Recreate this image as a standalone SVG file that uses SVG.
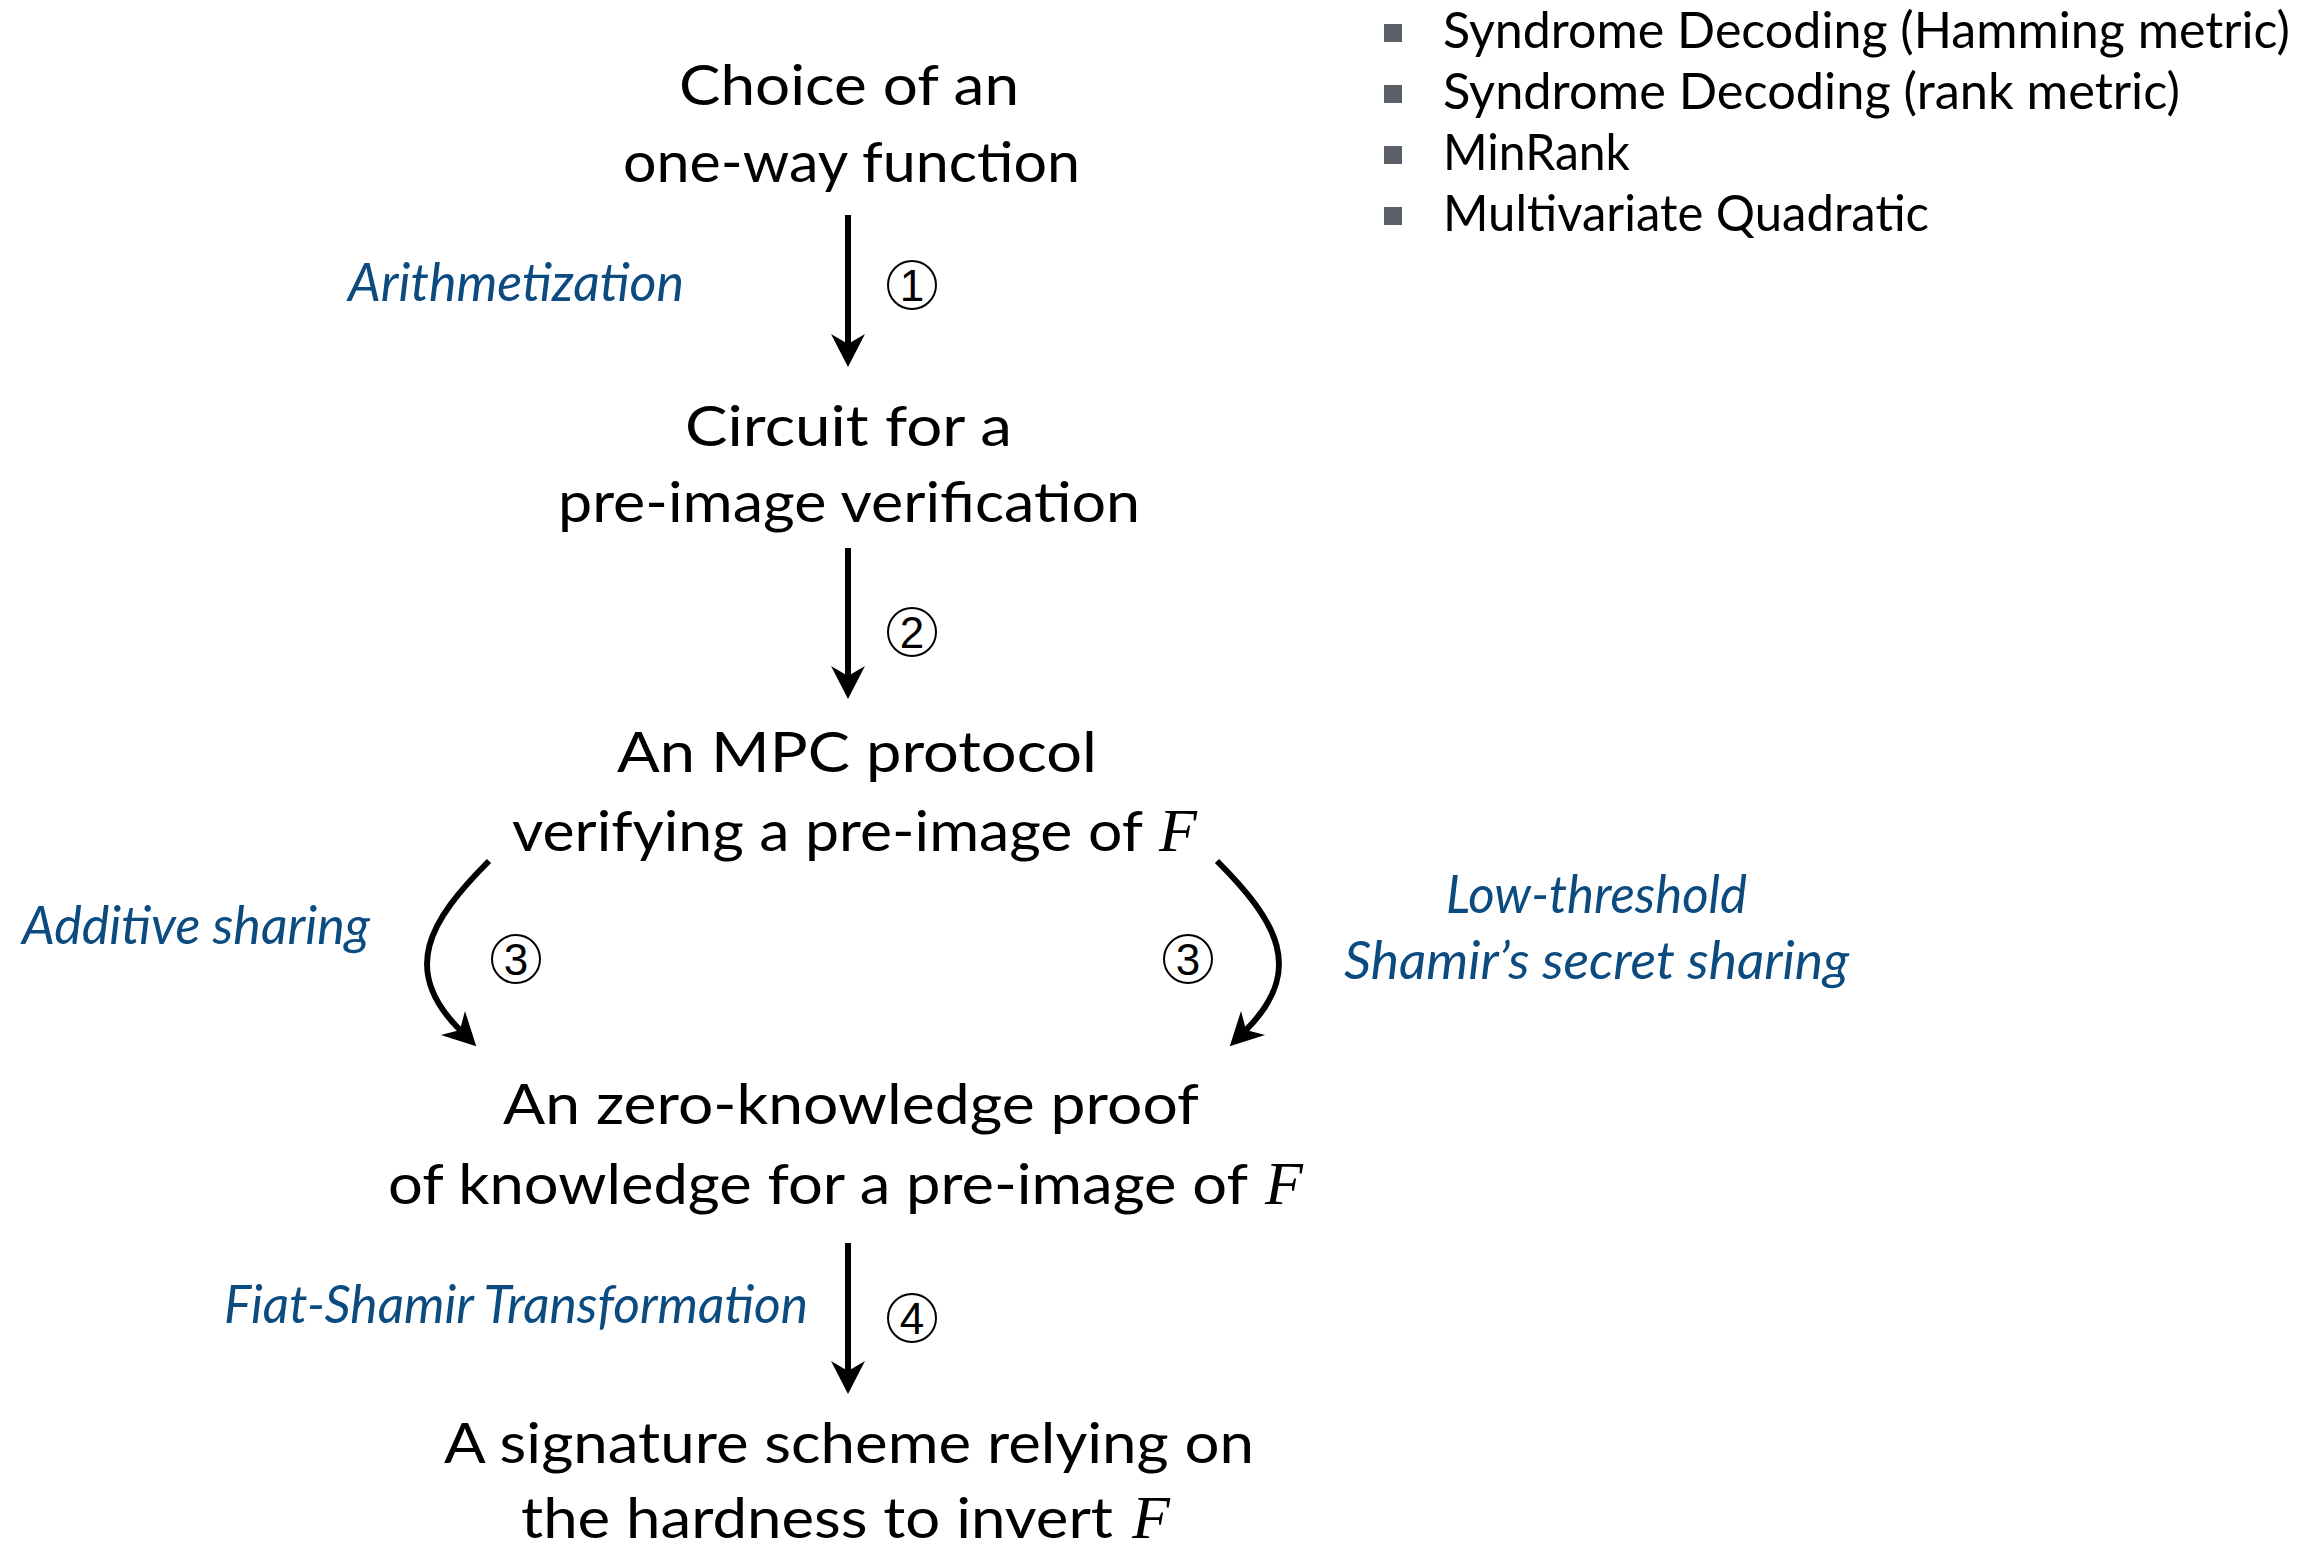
<svg xmlns="http://www.w3.org/2000/svg" width="2321" height="1549" viewBox="0 0 2321 1549">
<style>
.main{font-family:Lato,"Liberation Sans",sans-serif;font-size:57px;fill:#000}
.lbl{font-family:Lato,"Liberation Sans",sans-serif;font-style:italic;font-size:53px;fill:#0c4b7f}
.bul{font-family:Lato,"Liberation Sans",sans-serif;font-size:50px;fill:#000}
.F{font-family:"Liberation Serif",serif;font-style:italic;font-size:62px;fill:#000}
.num{font-family:"Liberation Sans",sans-serif;font-size:44px;fill:#000;text-anchor:middle}
.circ{fill:none;stroke:#000;stroke-width:2}
.arr{fill:none;stroke:#000;stroke-width:6;marker-end:url(#ah)}
.sq{fill:#5b6068}
</style>
<defs>
<marker id="ah" markerUnits="userSpaceOnUse" viewBox="-2 -20 40 40" markerWidth="40" markerHeight="40" refX="10" refY="0" orient="auto" overflow="visible">
<path d="M33 0 L0 -17 L10 0 L0 17 Z" fill="#000"/>
</marker>
</defs>
<rect width="2321" height="1549" fill="#fff"/>
<g id="connectors">
<path class="arr" d="M848 215 L848 344"/>
<path class="arr" d="M848 548 L848 676"/>
<path class="arr" d="M489 861 C429 921 400 970 460 1030"/>
<path class="arr" d="M1217 861 C1277 921 1306 970 1246 1030"/>
<path class="arr" d="M848 1243 L848 1371"/>
</g>
<g id="node-oneway">
<text class="main" x="679" y="105" textLength="340" lengthAdjust="spacingAndGlyphs">Choice of an</text>
<text class="main" x="623" y="182" textLength="457" lengthAdjust="spacingAndGlyphs">one-way function</text>
</g>
<g id="node-circuit">
<text class="main" x="685" y="446" textLength="327" lengthAdjust="spacingAndGlyphs">Circuit for a</text>
<text class="main" x="558" y="522" textLength="582" lengthAdjust="spacingAndGlyphs">pre-image verification</text>
</g>
<g id="node-mpc">
<text class="main" x="617" y="772" textLength="480" lengthAdjust="spacingAndGlyphs">An MPC protocol</text>
<text class="main" x="512" y="851" textLength="631" lengthAdjust="spacingAndGlyphs">verifying a pre-image of</text>
<text class="F" x="1159" y="851">F</text>
</g>
<g id="node-zk">
<text class="main" x="503" y="1124" textLength="696" lengthAdjust="spacingAndGlyphs">An zero-knowledge proof</text>
<text class="main" x="388" y="1204" textLength="860" lengthAdjust="spacingAndGlyphs">of knowledge for a pre-image of</text>
<text class="F" x="1265" y="1204">F</text>
</g>
<g id="node-signature">
<text class="main" x="444" y="1463" textLength="810" lengthAdjust="spacingAndGlyphs">A signature scheme relying on</text>
<text class="main" x="521" y="1538" textLength="592" lengthAdjust="spacingAndGlyphs">the hardness to invert</text>
<text class="F" x="1132" y="1538">F</text>
</g>
<g id="labels">
<text class="lbl" x="348" y="301" textLength="336" lengthAdjust="spacingAndGlyphs">Arithmetization</text>
<text class="lbl" x="22" y="944" textLength="348" lengthAdjust="spacingAndGlyphs">Additive sharing</text>
<text class="lbl" x="1446" y="913" textLength="301" lengthAdjust="spacingAndGlyphs">Low-threshold</text>
<text class="lbl" x="1344" y="979" textLength="505" lengthAdjust="spacingAndGlyphs">Shamir’s secret sharing</text>
<text class="lbl" x="224" y="1323" textLength="584" lengthAdjust="spacingAndGlyphs">Fiat-Shamir Transformation</text>
</g>
<g id="step-numbers">
<ellipse class="circ" cx="912" cy="285" rx="24" ry="24"/><text class="num" x="912" y="301">1</text>
<ellipse class="circ" cx="912" cy="632" rx="24" ry="24"/><text class="num" x="912" y="648">2</text>
<ellipse class="circ" cx="516" cy="959" rx="24" ry="24"/><text class="num" x="516" y="975">3</text>
<ellipse class="circ" cx="1188" cy="959" rx="24" ry="24"/><text class="num" x="1188" y="975">3</text>
<ellipse class="circ" cx="912" cy="1318" rx="24" ry="24"/><text class="num" x="912" y="1334">4</text>
</g>
<g id="bullet-list">
<rect class="sq" x="1384" y="24" width="18" height="18"/>
<text class="bul" x="1443" y="48" textLength="847" lengthAdjust="spacingAndGlyphs">Syndrome Decoding (Hamming metric)</text>
<rect class="sq" x="1384" y="85" width="18" height="18"/>
<text class="bul" x="1443" y="109" textLength="737" lengthAdjust="spacingAndGlyphs">Syndrome Decoding (rank metric)</text>
<rect class="sq" x="1384" y="146" width="18" height="18"/>
<text class="bul" x="1443" y="170" textLength="187" lengthAdjust="spacingAndGlyphs">MinRank</text>
<rect class="sq" x="1384" y="207" width="18" height="18"/>
<text class="bul" x="1443" y="231" textLength="486" lengthAdjust="spacingAndGlyphs">Multivariate Quadratic</text>
</g>
</svg>
